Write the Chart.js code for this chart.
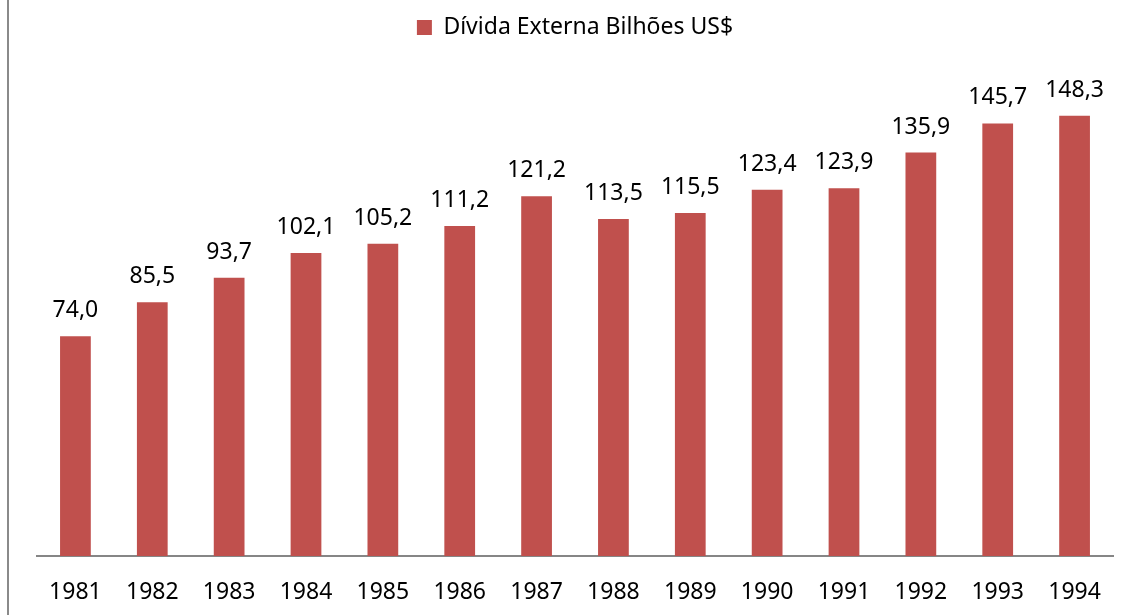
<!DOCTYPE html>
<html>
<head>
<meta charset="utf-8">
<script src="https://cdn.jsdelivr.net/npm/chart.js@4/dist/chart.umd.min.js"></script>
<style>
  html, body { margin: 0; padding: 0; background: #fff; }
  #wrap { position: relative; width: 1130px; height: 615px; }
  #edge { position: absolute; left: 7px; top: 0; width: 2px; height: 615px; background: #8a8a8a; }
  canvas { position: absolute; left: 0; top: 0; }
</style>
</head>
<body>
<div id="wrap">
  <canvas id="c" width="1130" height="615"></canvas>
  <div id="edge"></div>
</div>
<script>
const years = ['1981','1982','1983','1984','1985','1986','1987','1988','1989','1990','1991','1992','1993','1994'];
const divida = [74.0, 85.5, 93.7, 102.1, 105.2, 111.2, 121.2, 113.5, 115.5, 123.4, 123.9, 135.9, 145.7, 148.3];
const seriesName = 'Dívida Externa Bilhões US$';

const FONT = '"Noto Sans", "Open Sans", sans-serif';
const FSIZE = 23;

const valueLabels = {
  id: 'valueLabels',
  afterDatasetsDraw(chart) {
    const ctx = chart.ctx;
    const meta = chart.getDatasetMeta(0);
    ctx.save();
    ctx.font = FSIZE + 'px ' + FONT;
    ctx.fillStyle = '#000';
    ctx.textAlign = 'center';
    ctx.textBaseline = 'alphabetic';
    meta.data.forEach((el, i) => {
      const v = chart.data.datasets[0].data[i];
      ctx.fillText(v.toFixed(1).replace('.', ','), el.x, el.y - 19);
    });
    ctx.restore();
  }
};

const legendGap = {
  id: 'legendGap',
  beforeInit(chart) {
    const fit = chart.legend.fit;
    chart.legend.fit = function () {
      fit.bind(chart.legend)();
      this.height += 32;
    };
  }
};

new Chart(document.getElementById('c'), {
  type: 'bar',
  data: {
    labels: years,
    datasets: [{
      label: seriesName,
      data: divida,
      backgroundColor: '#C0504D',
      borderWidth: 0,
      categoryPercentage: 1.0,
      barPercentage: 0.40
    }]
  },
  options: {
    responsive: false,
    animation: false,
    layout: { padding: { left: 37, right: 17, top: 8, bottom: 0 } },
    plugins: {
      legend: {
        display: true,
        position: 'top',
        labels: {
          font: { family: FONT, size: FSIZE },
          color: '#000',
          boxWidth: 15,
          boxHeight: 15,
          padding: 8
        }
      },
      tooltip: { enabled: false }
    },
    scales: {
      x: {
        grid: { display: false, drawTicks: false },
        border: { display: true, color: '#868686', width: 2 },
        ticks: {
          font: { family: FONT, size: FSIZE, lineHeight: 1 },
          color: '#000',
          padding: 25,
          maxRotation: 0
        },
        afterFit(scale) { scale.height = 59; }
      },
      y: {
        display: false,
        min: 0,
        max: 160
      }
    }
  },
  plugins: [valueLabels, legendGap]
});
</script>
</body>
</html>
